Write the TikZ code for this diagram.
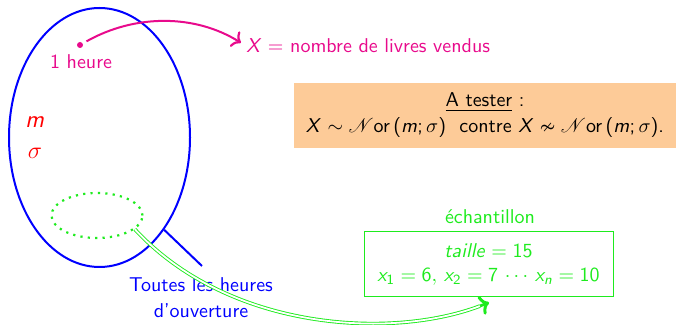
\documentclass[tikz,border=0pt]{standalone}
\usepackage{amssymb}
\usepackage{mathrsfs}
\usetikzlibrary{arrows.meta,shapes.geometric}
\renewcommand{\familydefault}{\sfdefault}
\DeclareSymbolFont{sfletters}{OT1}{cmss}{m}{sl}
\SetSymbolFont{operators}{normal}{OT1}{cmss}{m}{n}
\DeclareMathSymbol{X}{\mathalpha}{sfletters}{`X}
\DeclareMathSymbol{m}{\mathalpha}{sfletters}{`m}
\DeclareMathSymbol{x}{\mathalpha}{sfletters}{`x}
\DeclareMathSymbol{n}{\mathalpha}{sfletters}{`n}
\DeclareMathSymbol{t}{\mathalpha}{sfletters}{`t}
\DeclareMathSymbol{a}{\mathalpha}{sfletters}{`a}
\DeclareMathSymbol{i}{\mathalpha}{sfletters}{`i}
\DeclareMathSymbol{l}{\mathalpha}{sfletters}{`l}
\DeclareMathSymbol{e}{\mathalpha}{sfletters}{`e}
\definecolor{pinkc}{RGB}{232,10,140}
\definecolor{greenc}{RGB}{30,235,30}
\definecolor{orangec}{RGB}{253,203,152}
\begin{document}
\begin{tikzpicture}[x=0.5pt,y=-0.5pt,
  txt/.style={inner sep=0pt, font=\sffamily},
  popu/.style={ellipse, draw=blue, line width=1pt, inner sep=0pt, minimum width=90.5pt, minimum height=129.5pt},
  samp/.style={ellipse, draw=greenc, line width=1.1pt, line cap=butt, dash pattern=on 1.1pt off 2.6pt, inner sep=0pt, minimum width=45.5pt, minimum height=22.5pt},
  pinkarrow/.style={pinkc, line width=1pt, -{To[length=4pt,width=9pt,line width=1.1pt]}},
  dline/.style={greenc, double=white, double distance=0.9pt, line width=0.45pt},
  gtip/.style={greenc, line width=1.4pt, -{To[length=4.5pt,width=10pt,line width=1.5pt]}}]
\useasboundingbox (0,0) rectangle (680,325);
% population
\node[popu] (pop) at (99.5,137.5) {};
\node[samp] (sample) at (97,215.5) {};
% one hour
\node[circle, fill=pinkc, inner sep=0pt, minimum size=3pt] (dot) at (80,45) {};
\node[txt, text=pinkc] (heure) at (81,62) {1 heure};
\node[txt, text=pinkc, anchor=west] (xdef) at (246,46) {$X=$ nombre de livres vendus};
\draw[pinkarrow, shorten <=2pt, shorten >=3pt] (dot) .. controls (135,14) and (195,14) .. (xdef.west);
% parameters
\node[txt, text=red, font=\sffamily\large] (mm) at (35,122) {$m$};
\node[txt, text=red, font=\sffamily\large] (ss) at (35,153) {$\sigma$};
% all hours
\coordinate (bend) at (202,266);
\draw[blue, line width=1pt] (pop.-55) -- (bend);
\node[txt, text=blue, align=center] (toutes) at (201,298) {Toutes les heures\\[1pt]d'ouverture};
% test box
\node[fill=orangec, minimum width=191pt, minimum height=32.5pt, inner sep=0pt, align=center, font=\sffamily] (test) at (485,115.5)
  {\underline{A tester} :\\[1pt] $X\sim\mathscr{N}\textsf{or}\left(m;\sigma\right)$ \ contre $X\nsim\mathscr{N}\textsf{or}\left(m;\sigma\right)$.};
% sample box
\node[draw=greenc, line width=0.5pt, text=greenc, minimum width=124.5pt, minimum height=32.5pt, inner sep=0pt, align=center, font=\sffamily] (ech) at (488.5,264.5)
  {$taille=15$\\ $x_1=6,\, x_2=7\,\cdots\, x_n=10$};
\node[txt, text=greenc] (echl) at (490,217) {échantillon};
% link
\coordinate (gend) at (480,306);
\coordinate (gtipend) at (489,302.5);
\draw[dline] (sample.-20) .. controls (228,330) and (390,340) .. (gend);
\draw[gtip] (gend) -- (gtipend);
\end{tikzpicture}
\end{document}
